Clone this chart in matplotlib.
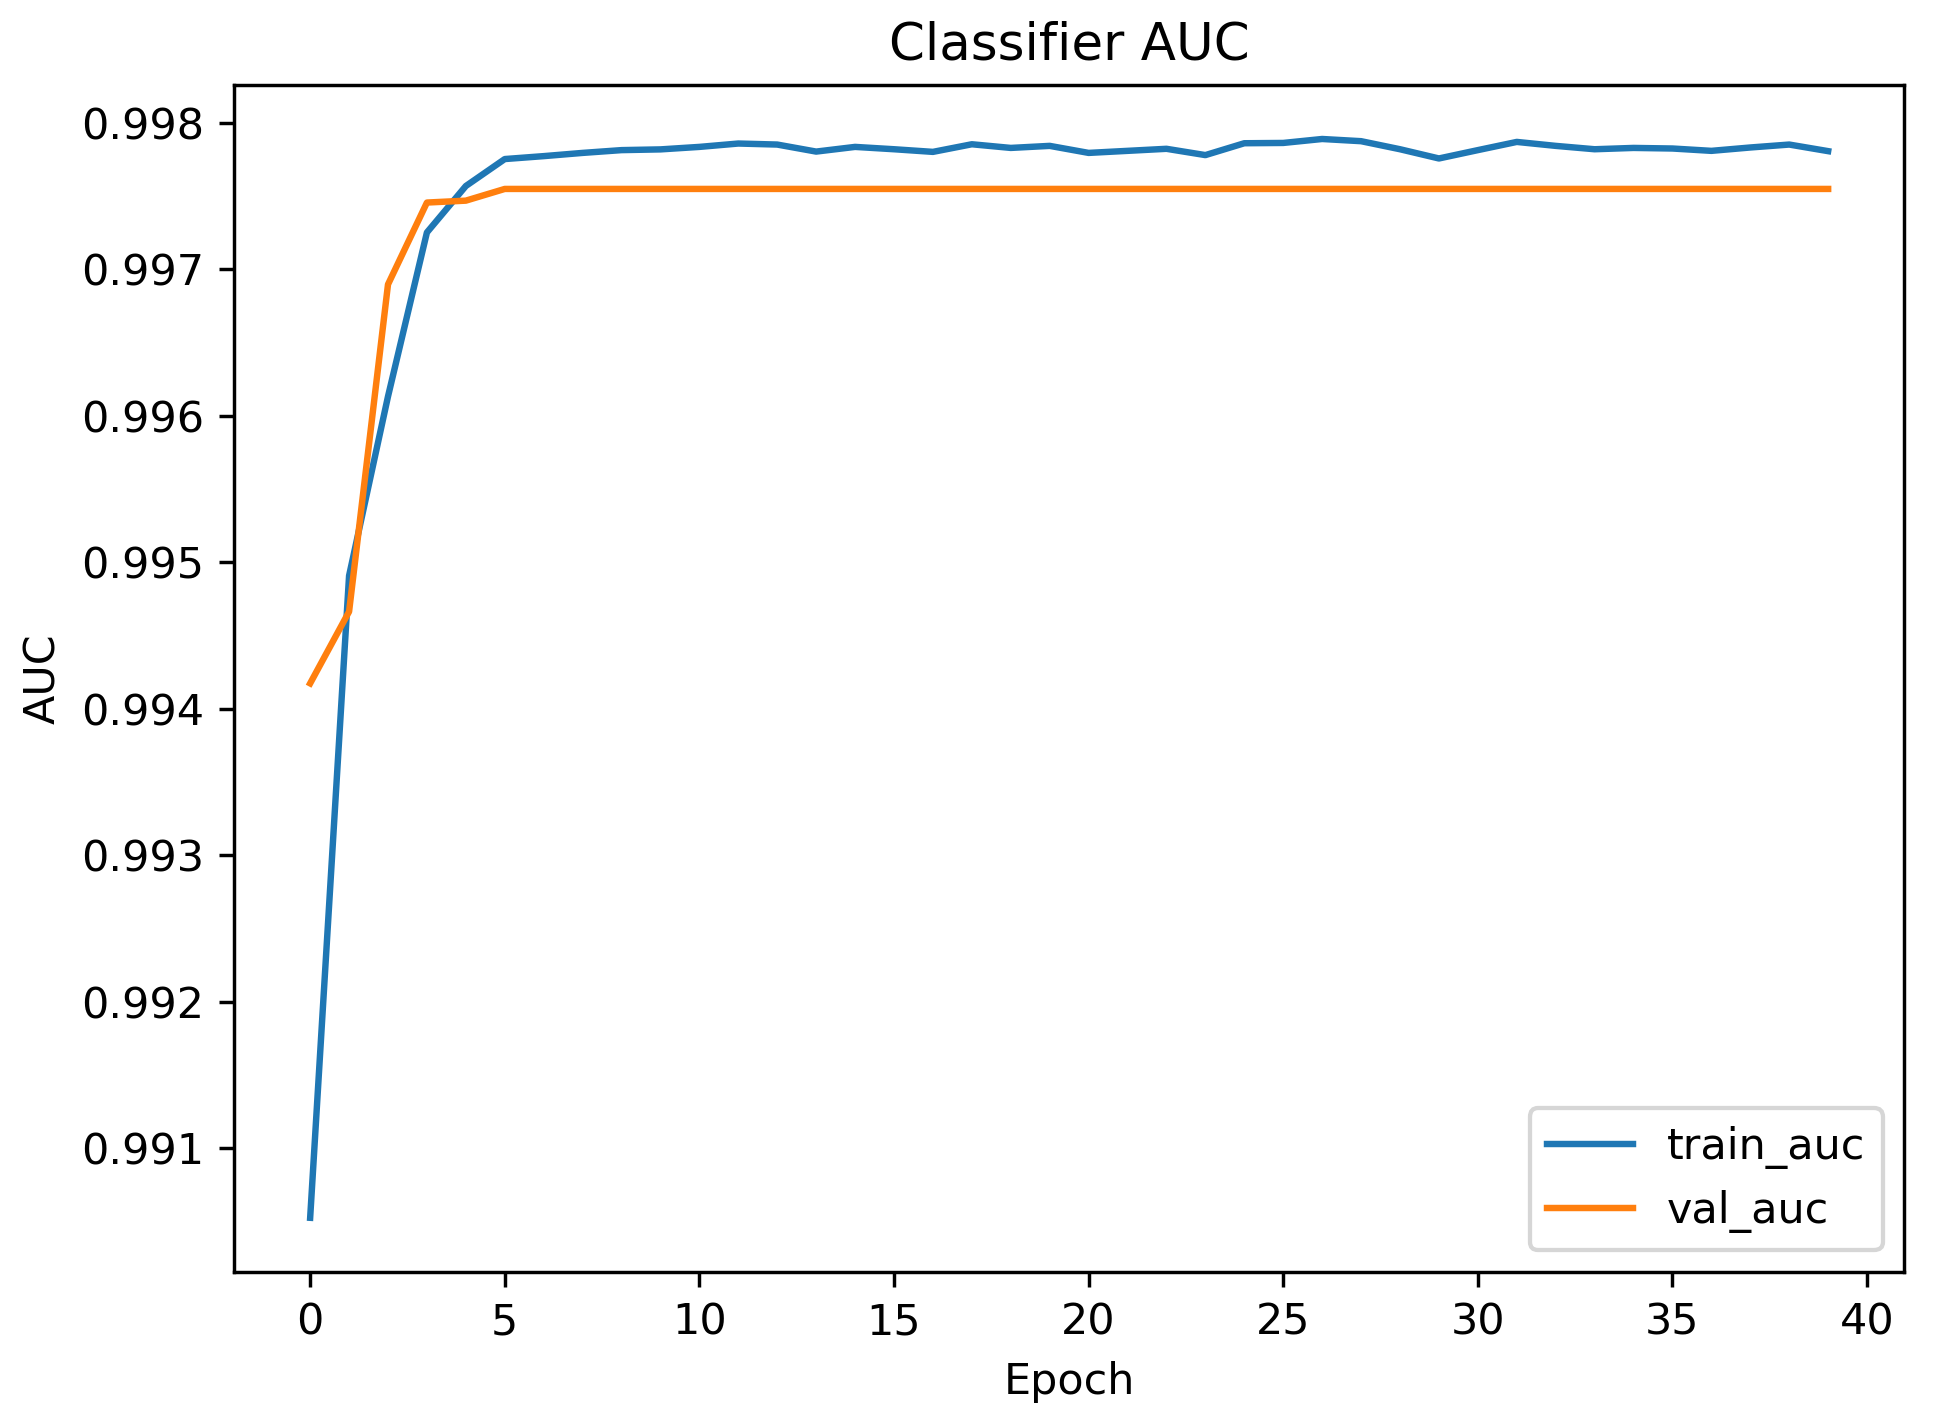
import matplotlib
matplotlib.use("Agg")
import matplotlib.pyplot as plt

epochs = list(range(40))
train_auc = [0.990525, 0.994909, 0.996133, 0.997253, 0.99757, 0.997754, 0.997774, 0.997796,
             0.997815, 0.99782, 0.997837, 0.99786, 0.997853, 0.997805, 0.997837, 0.997821,
             0.997803, 0.997855, 0.99783, 0.997844, 0.997796, 0.99781, 0.997824, 0.997781,
             0.997862, 0.997864, 0.997891, 0.997876, 0.997821, 0.997758, 0.997815, 0.997871,
             0.997844, 0.997821, 0.99783, 0.997826, 0.99781, 0.997833, 0.997853, 0.997808]
val_auc = [0.994174, 0.994664, 0.996898, 0.997457, 0.99747, 0.99755] + [0.99755] * 34

DPI = 309
fig = plt.figure(figsize=(1936 / DPI, 1427 / DPI), dpi=DPI)
ax = fig.add_axes([0.1210, 0.1088, 0.8625, 0.8316])
ax.plot(epochs, train_auc, label="train_auc")
ax.plot(epochs, val_auc, label="val_auc")
ax.set_title("Classifier AUC")
ax.set_xlabel("Epoch")
ax.set_ylabel("AUC")
ax.legend(loc="lower right")
fig.savefig("out.png", dpi=DPI)
